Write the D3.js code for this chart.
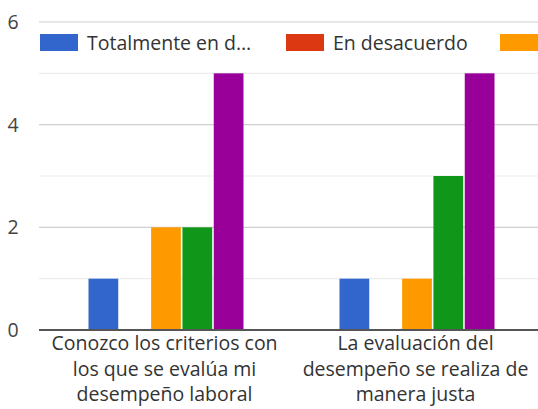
<!DOCTYPE html>
<html>
<head>
<meta charset="utf-8">
<script src="https://cdn.jsdelivr.net/npm/d3@7"></script>
<style>
  html, body { margin: 0; padding: 0; background: #fff; }
  svg { display: block; font-family: "Open Sans", Roboto, sans-serif; }
</style>
</head>
<body>
<svg id="chart" width="538" height="409"></svg>
<script>
// Survey questions (x categories)
const categories = [
  ["Conozco los criterios con", "los que se evalúa mi", "desempeño laboral"],
  ["La evaluación del", "desempeño se realiza de", "manera justa"]
];
// Response options (series)
const seriesNames = [
  "Totalmente en desacuerdo",
  "En desacuerdo",
  "Ni de acuerdo ni en desacuerdo",
  "De acuerdo",
  "Totalmente de acuerdo"
];
const seriesColors = ["#3366cc", "#dc3912", "#ff9900", "#109618", "#990099"];
// Counts per question, one row per series
const totalmenteDesacuerdo = [1, 1];
const enDesacuerdo = [0, 0];
const neutral = [2, 1];
const deAcuerdo = [2, 3];
const totalmenteAcuerdo = [5, 5];
const yTicks = [0, 2, 4, 6];

const values = [totalmenteDesacuerdo, enDesacuerdo, neutral, deAcuerdo, totalmenteAcuerdo];

const svg = d3.select("#chart");
const plotLeft = 39, plotRight = 541, plotTop = 22, plotBottom = 330;
const fontSize = 19.5;

const x0 = d3.scaleBand().domain(d3.range(categories.length)).range([plotLeft, plotRight]);
// Bars occupy the middle of each band, leaving ~50px on either side
const x1 = d3.scaleBand().domain(d3.range(seriesNames.length))
  .range([49.5, x0.bandwidth() - 46.5]).paddingInner(0.05).paddingOuter(0);
const y = d3.scaleLinear().domain([0, 6]).range([plotBottom, plotTop]);

// Gridlines (major every 2, minor every 1)
svg.append("g").selectAll("line").data(d3.range(1, 7)).join("line")
  .attr("x1", plotLeft).attr("x2", 538)
  .attr("y1", d => y(d)).attr("y2", d => y(d))
  .attr("stroke", d => d % 2 === 0 ? "#d0d0d0" : "#ececec")
  .attr("stroke-width", 1.2);

// Y axis labels
const yAxis = d3.axisLeft(y).tickValues(yTicks).tickSize(0).tickPadding(0).tickFormat(d3.format("d"));
const yg = svg.append("g").attr("transform", "translate(20,0)").call(yAxis);
yg.select(".domain").remove();
yg.selectAll("text").attr("font-size", fontSize).attr("fill", "#444").attr("text-anchor", "middle").attr("dx", -7).attr("dy", "0.33em")
  .attr("font-family", "\"Open Sans\", sans-serif");

// Bars
const groups = svg.append("g").selectAll("g").data(categories).join("g")
  .attr("transform", (d, i) => `translate(${x0(i)},0)`);
groups.selectAll("rect")
  .data((d, i) => values.map((s, k) => ({ k, v: s[i] })))
  .join("rect")
  .attr("x", d => x1(d.k))
  .attr("width", x1.bandwidth())
  .attr("y", d => y(d.v))
  .attr("height", d => y(0) - y(d.v))
  .attr("fill", d => seriesColors[d.k]);

// Baseline
svg.append("line").attr("x1", plotLeft).attr("x2", 538).attr("y1", y(0)).attr("y2", y(0))
  .attr("stroke", "#555").attr("stroke-width", 2);

// Category labels
const xAxis = d3.axisBottom(x0).tickSize(0).tickFormat("");
const xg = svg.append("g").attr("transform", `translate(0,${plotBottom})`).call(xAxis);
xg.select(".domain").remove();
xg.selectAll(".tick").each(function(d) {
  const t = d3.select(this).append("text")
    .attr("text-anchor", "middle").attr("fill", "#333").attr("font-size", fontSize)
    .attr("font-family", "\"Open Sans\", sans-serif");
  categories[d].forEach((line, j) => {
    t.append("tspan").attr("x", 0).attr("y", 20 + j * 25.5).text(line);
  });
});

// Legend (clipped at the right edge)
const legendItems = [
  { label: "Totalmente en d…", color: seriesColors[0], x: 40 },
  { label: "En desacuerdo", color: seriesColors[1], x: 286 },
  { label: "", color: seriesColors[2], x: 500 }
];
const lg = svg.append("g").selectAll("g").data(legendItems).join("g")
  .attr("transform", d => `translate(${d.x},34)`);
lg.append("rect").attr("width", 38).attr("height", 17).attr("fill", d => d.color);
lg.append("text").attr("x", 47).attr("y", 15.5).attr("font-size", fontSize).attr("fill", "#333")
  .attr("font-family", "\"Open Sans\", sans-serif").text(d => d.label);
</script>
</body>
</html>
